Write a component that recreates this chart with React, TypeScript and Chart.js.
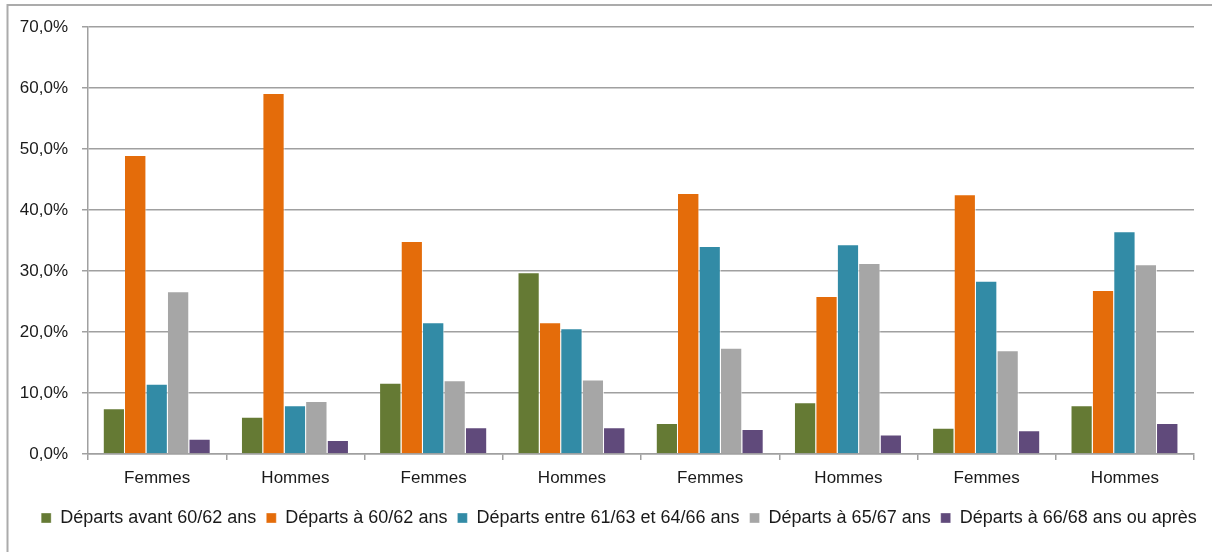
import React, { useEffect, useRef } from "react";
import { Chart, registerables } from "chart.js";

Chart.register(...registerables);

const categories = ["Femmes", "Hommes", "Femmes", "Hommes", "Femmes", "Hommes", "Femmes", "Hommes"];
const seriesLabels = [
  "Départs avant 60/62 ans",
  "Départs à 60/62 ans",
  "Départs entre 61/63 et 64/66 ans",
  "Départs à 65/67 ans",
  "Départs à 66/68 ans ou après",
];
const avant = [7.5, 6.1, 11.7, 29.8, 5.1, 8.5, 4.3, 8.0];
const a6062 = [49.0, 59.2, 34.9, 21.6, 42.8, 25.9, 42.6, 26.9];
const entre = [11.5, 8.0, 21.6, 20.6, 34.1, 34.4, 28.4, 36.5];
const a6567 = [26.7, 8.7, 12.1, 12.2, 17.4, 31.3, 17.0, 31.1];
const apres = [2.5, 2.3, 4.4, 4.4, 4.1, 3.2, 3.9, 5.1];
const colors = ["#657A34", "#E46C0A", "#328BA6", "#A6A6A6", "#604A7B"];
const yTicks = [0, 10, 20, 30, 40, 50, 60, 70];

const FONT = "'Liberation Sans', Arial, sans-serif";
const GRID = "#A0A0A0";
const TEXT = "#1a1a1a";

export default function App() {
  const ref = useRef<HTMLCanvasElement | null>(null);
  useEffect(() => {
    if (!ref.current) return;
    const series = [avant, a6062, entre, a6567, apres];
    const frame = {
      id: "frame",
      afterLayout(chart: any) {
        if (chart.legend) {
          chart.legend.left += 18;
          chart.legend.right += 18;
        }
      },
      beforeDraw(chart: any) {
        const ctx = chart.ctx;
        ctx.save();
        ctx.strokeStyle = "#ABABAB";
        ctx.lineWidth = 2;
        ctx.beginPath();
        ctx.moveTo(7.5, 600);
        ctx.lineTo(7.5, 5);
        ctx.lineTo(1212, 5);
        ctx.stroke();
        ctx.restore();
      },
    };
    const chart = new Chart(ref.current, {
      type: "bar",
      data: {
        labels: categories,
        datasets: series.map((d, i) => ({
          label: seriesLabels[i],
          data: d,
          backgroundColor: colors[i],
          borderColor: "rgba(255,255,255,0.7)",
          borderWidth: { top: 1, right: 1, left: 0, bottom: 0 },
          borderSkipped: false,
          barPercentage: 1,
          categoryPercentage: 0.775,
        })),
      },
      options: {
        responsive: false,
        animation: false,
        layout: { padding: { top: 27, right: 18, left: 8, bottom: 15 } },
        plugins: {
          tooltip: { enabled: false },
          legend: {
            position: "bottom",
            labels: {
              boxWidth: 10,
              boxHeight: 10,
              padding: 10,
              color: TEXT,
              font: { family: FONT, size: 18 },
            },
          },
        },
        scales: {
          x: {
            offset: true,
            grid: {
              offset: true,
              drawOnChartArea: false,
              drawTicks: true,
              tickLength: 6,
              color: GRID,
              lineWidth: 1.5,
            },
            border: { color: GRID, width: 1.5 },
            ticks: { color: TEXT, font: { family: FONT, size: 17 }, padding: 8, maxRotation: 0 },
            afterFit: (s: any) => {
              s.height = 45;
            },
          },
          y: {
            min: 0,
            max: 70,
            afterBuildTicks: (s: any) => {
              s.ticks = yTicks.map((v) => ({ value: v }));
            },
            grid: { color: GRID, lineWidth: 1.5, tickLength: 6 },
            border: { color: GRID, width: 1.5 },
            ticks: {
              color: TEXT,
              font: { family: FONT, size: 17 },
              padding: 14,
              callback: (v: any) => Number(v).toFixed(1).replace(".", ",") + "%",
            },
            afterFit: (s: any) => {
              s.width = 80;
            },
          },
        },
      },
      plugins: [frame],
    });
    return () => chart.destroy();
  }, []);
  return (
    <div style={{ position: "absolute", left: 0, top: 0, width: 1212, height: 552 }}>
      <canvas ref={ref} width={1212} height={552} style={{ display: "block" }} />
    </div>
  );
}
